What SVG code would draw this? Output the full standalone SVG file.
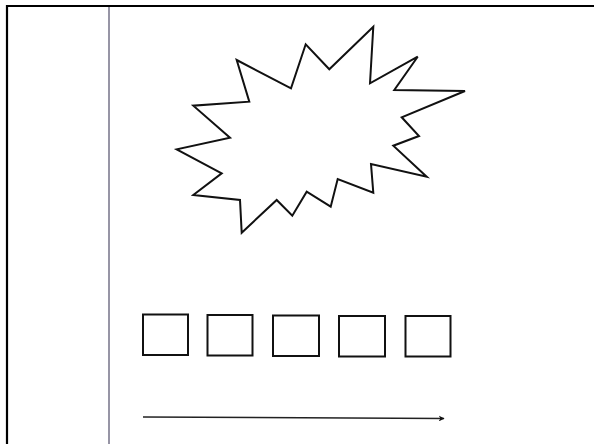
<svg xmlns="http://www.w3.org/2000/svg" width="594" height="444" viewBox="0 0 594 444">
<style>
.frame{stroke:#000;stroke-width:2.2;fill:none}
.rule{stroke:#8c8a9c;stroke-width:1.8;fill:none}
.shape{stroke:#111;stroke-width:2;fill:#fff;stroke-linejoin:miter}
.conn{stroke:#222;stroke-width:1.4;fill:none}
</style>
<defs>
<marker id="ah" viewBox="0 0 10 10" refX="9" refY="5" markerWidth="6" markerHeight="6" markerUnits="userSpaceOnUse" orient="auto">
<path d="M0,0 L10,5 L0,10 L3,5 Z" fill="#111"/>
</marker>
</defs>
<rect width="594" height="444" fill="#fff"/>
<path class="frame" d="M7,444 V6 H594"/>
<line class="rule" x1="109" y1="7" x2="109" y2="444"/>
<g id="burst">
<polygon class="shape" points="236.7,60 291,88.3 305.7,44.3 329.3,69.3 373.3,26.7 370,83.3 417.7,56.7 394.3,90 465,91 401.7,117.3 419,136 393.3,145.7 426.7,176.7 371,164 373.3,192.7 337.7,179 330.7,206.7 306.7,191.7 292.3,215.7 276.7,200 241.7,232.7 240,200 193.3,195 221.7,173.3 176.7,149.3 230,137.7 193.3,105.7 249.3,101.7"/>
</g>
<g id="box1"><rect class="shape" x="143" y="314.5" width="45" height="40.5"/></g>
<g id="box2"><rect class="shape" x="207.5" y="315" width="45" height="40.5"/></g>
<g id="box3"><rect class="shape" x="273" y="315.5" width="46" height="40.5"/></g>
<g id="box4"><rect class="shape" x="339" y="316" width="46" height="40.5"/></g>
<g id="box5"><rect class="shape" x="405.5" y="316" width="45" height="40.5"/></g>
<g id="connectors">
<line class="conn" x1="143" y1="417" x2="444" y2="418.5" marker-end="url(#ah)"/>
</g>
</svg>
